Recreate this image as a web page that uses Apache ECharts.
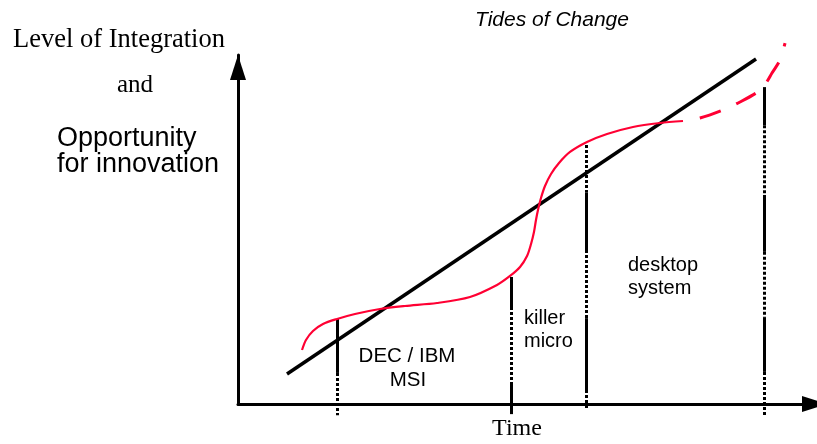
<!DOCTYPE html>
<html>
<head>
<meta charset="utf-8">
<script src="https://cdn.jsdelivr.net/npm/echarts@6/dist/echarts.min.js"></script>
<style>html,body{margin:0;padding:0;background:#fff}#c{width:817px;height:444px}</style>
</head>
<body>
<div id="c"></div>
<script>
// ---- data (time units, integration level units 0..100) ----
const trendLine = [[8.32, 8.6], [87.95, 98.85]];
const waveSolid = [
  [10.87, 15.47], [11.54, 18.34], [12.73, 20.92], [14.43, 22.92], [16.81, 24.36],
  [19.86, 25.79], [24.11, 27.22], [28.35, 28.08], [33.79, 28.94], [39.39, 30.66],
  [43.97, 34.10], [46.18, 36.68], [47.88, 39.26], [49.07, 42.41], [49.75, 45.85],
  [50.25, 49.28], [50.59, 52.72], [50.93, 55.59], [51.44, 59.03], [52.12, 62.46],
  [53.14, 65.90], [54.50, 69.05], [56.37, 72.21], [59.25, 75.07], [62.65, 77.36],
  [67.06, 79.37], [71.65, 80.52], [75.55, 81.09]
];
const waveDashed = [
  [75.55, 81.09], [78.44, 81.95], [82.34, 84.24], [85.23, 86.53], [88.46, 89.68],
  [89.64, 91.98], [90.66, 94.84], [92.02, 98.57], [92.87, 103.4]
];
const eraBoundaries = [16.8, 46.35, 59.08, 89.3];
// [boundary index, yFrom, yTo]
const solidSegments = [
  [0, 24.4, 8.9], [1, 36.4, 27.8], [1, 6.3, -2.9], [2, 60.5, 44.1], [2, 24.6, 4.0],
  [3, 90.8, 79.9], [3, 59.9, 43.6], [3, 24.9, 9.2]
];
const dottedSegments = [
  [0, 8.9, -3.2], [1, 27.8, 6.3], [2, 74.2, 60.5], [2, 44.1, 24.6], [2, 4.0, -1.7],
  [3, 79.9, 59.9], [3, 43.6, 24.9], [3, 9.2, -3.2]
];
const titleText = 'Tides of Change';
const yLabelLines = ['Level of Integration', 'and', 'Opportunity', 'for innovation'];
const xLabel = 'Time';
const eraLabels = [['DEC / IBM', 'MSI'], ['killer', 'micro'], ['desktop', 'system']];

// ---- chart ----
const toSeg = s => ({ coords: [[eraBoundaries[s[0]], s[1]], [eraBoundaries[s[0]], s[2]]] });
const SANS = 'Liberation Sans, Arial, sans-serif';
const SERIF = 'Liberation Serif, Times New Roman, serif';
const RED = '#ff0033';

function txt(x, y, text, size, family, align, italic) {
  return {
    type: 'text', x: x, y: y, z: 100,
    style: {
      text: text, fontSize: size, fontFamily: family, fontStyle: italic ? 'italic' : 'normal',
      fill: '#000', align: align, verticalAlign: 'middle'
    }
  };
}

const chart = echarts.init(document.getElementById('c'), null, { renderer: 'canvas' });
chart.setOption({
  animation: false,
  grid: { left: 238, right: 0, top: 55, bottom: 40 },
  xAxis: {
    type: 'value', min: 0, max: 98.3,
    axisLine: { show: true, onZero: true, symbol: ['none', 'triangle'], symbolSize: [16, 25], symbolOffset: [0, -2.5],
      lineStyle: { color: '#000', width: 3 } },
    axisTick: { show: false }, axisLabel: { show: false }, splitLine: { show: false }
  },
  yAxis: {
    type: 'value', min: 0, max: 100,
    axisLine: { show: true, onZero: true, symbol: ['none', 'triangle'], symbolSize: [16, 25], symbolOffset: [0, -12.5],
      lineStyle: { color: '#000', width: 3 } },
    axisTick: { show: false }, axisLabel: { show: false }, splitLine: { show: false }
  },
  series: [
    { type: 'lines', coordinateSystem: 'cartesian2d', clip: false, z: 3,
      lineStyle: { color: '#000', width: 3, type: 'solid', opacity: 1 },
      data: solidSegments.map(toSeg) },
    { type: 'lines', coordinateSystem: 'cartesian2d', clip: false, z: 3,
      lineStyle: { color: '#000', width: 3, type: [3, 2], cap: 'butt', opacity: 1 },
      data: dottedSegments.map(toSeg) },
    { type: 'line', data: trendLine, showSymbol: false, symbol: 'none', clip: false, z: 4,
      lineStyle: { color: '#000', width: 3.5 } },
    { type: 'line', data: waveSolid, showSymbol: false, symbol: 'none', smooth: 0.3, clip: false, z: 5,
      lineStyle: { color: RED, width: 2.2 } },
    { type: 'line', data: waveDashed, showSymbol: false, symbol: 'none', smooth: 0.3, clip: false, z: 5,
      lineStyle: { color: RED, width: 3, type: [22, 17], dashOffset: 22 } }
  ],
  graphic: [
    txt(552, 20, titleText, 21, SANS, 'center', true),
    txt(119, 40, yLabelLines[0], 26.5, SERIF, 'center'),
    txt(135, 85, yLabelLines[1], 25, SERIF, 'center'),
    txt(57, 139, yLabelLines[2], 27, SANS, 'left'),
    txt(57, 165, yLabelLines[3], 27, SANS, 'left'),
    txt(517, 429, xLabel, 24, SERIF, 'center'),
    txt(407, 356, eraLabels[0][0], 20.5, SANS, 'center'),
    txt(408, 380, eraLabels[0][1], 20.5, SANS, 'center'),
    txt(524, 318, eraLabels[1][0], 20, SANS, 'left'),
    txt(524, 341, eraLabels[1][1], 20, SANS, 'left'),
    txt(628, 265, eraLabels[2][0], 20, SANS, 'left'),
    txt(628, 288, eraLabels[2][1], 20, SANS, 'left')
  ]
});
</script>
</body>
</html>
